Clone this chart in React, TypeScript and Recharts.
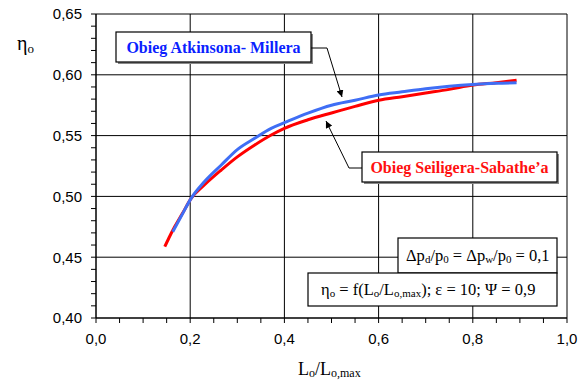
import React from 'react';
import { ComposedChart, Line, XAxis, YAxis, ReferenceLine } from 'recharts';

const redX = [0.146, 0.155, 0.167, 0.185, 0.202, 0.23, 0.266, 0.3, 0.337, 0.372, 0.4, 0.45, 0.5, 0.55, 0.6, 0.65, 0.7, 0.75, 0.8, 0.85, 0.893];
const redY = [0.4586, 0.466, 0.475, 0.487, 0.4984, 0.5094, 0.5217, 0.5325, 0.5423, 0.5505, 0.556, 0.563, 0.5686, 0.574, 0.579, 0.582, 0.585, 0.588, 0.5915, 0.5935, 0.5955];
const blueX = [0.163, 0.18, 0.202, 0.23, 0.266, 0.3, 0.337, 0.372, 0.4, 0.45, 0.5, 0.55, 0.6, 0.65, 0.7, 0.75, 0.8, 0.85, 0.893];
const blueY = [0.471, 0.483, 0.4984, 0.512, 0.5258, 0.5385, 0.5478, 0.556, 0.5606, 0.5685, 0.575, 0.579, 0.5834, 0.586, 0.5885, 0.5905, 0.592, 0.593, 0.5935];

const xTicks = Array.from({ length: 21 }, (_, i) => i / 20);
const yTicks = Array.from({ length: 26 }, (_, i) => (40 + i) / 100);
const xGrid = [0.2, 0.4, 0.6, 0.8, 1.0];
const yGrid = [0.45, 0.5, 0.55, 0.6, 0.65];

const redData = redX.map((x, i) => ({ x, y: redY[i] }));
const blueData = blueX.map((x, i) => ({ x, y: blueY[i] }));

const fmtX = (v: number) => (Math.round(v * 100) % 20 === 0 ? v.toFixed(1).replace('.', ',') : '');
const fmtY = (v: number) => (Math.round(v * 100) % 5 === 0 ? v.toFixed(2).replace('.', ',') : '');

const tickFont = { fontFamily: 'Liberation Sans, Arial, sans-serif', fontSize: 15, fill: '#000' };
const serif = 'Liberation Serif, Times New Roman, serif';

export default function App() {
  return (
    <div style={{ position: 'absolute', left: 0, top: 0, width: 585, height: 381, background: '#fff' }}>
      <ComposedChart width={585} height={381} margin={{ top: 14, right: 18, bottom: 33, left: 0 }}>
        <XAxis
          type="number"
          dataKey="x"
          domain={[0, 1]}
          ticks={xTicks}
          interval={0}
          tickFormatter={fmtX}
          tick={tickFont}
          tickSize={5}
          tickMargin={10}
          height={30}
          axisLine={{ stroke: '#000', strokeWidth: 1.5 }}
          tickLine={{ stroke: '#000', strokeWidth: 1 }}
          allowDataOverflow
        />
        <YAxis
          type="number"
          dataKey="y"
          domain={[0.4, 0.65]}
          ticks={yTicks}
          interval={0}
          tickFormatter={fmtY}
          tick={tickFont}
          tickSize={5}
          tickMargin={9}
          width={96}
          axisLine={{ stroke: '#000', strokeWidth: 1.5 }}
          tickLine={{ stroke: '#000', strokeWidth: 1 }}
          allowDataOverflow
        />
        {xGrid.map((v) => (
          <ReferenceLine key={'gx' + v} x={v} stroke="#000" strokeWidth={1} ifOverflow="extendDomain" />
        ))}
        {yGrid.map((v) => (
          <ReferenceLine key={'gy' + v} y={v} stroke="#000" strokeWidth={1} ifOverflow="extendDomain" />
        ))}
        <Line data={redData} dataKey="y" type="monotone" stroke="#ff0000" strokeWidth={3} dot={false} isAnimationActive={false} />
        <Line data={blueData} dataKey="y" type="monotone" stroke="#3f6ef5" strokeWidth={3} dot={false} isAnimationActive={false} />
      </ComposedChart>
      <svg width={585} height={381} style={{ position: 'absolute', left: 0, top: 0, pointerEvents: 'none' }}>
        <defs>
          <marker id="ah" viewBox="0 0 10 10" refX="10" refY="5" markerWidth="7" markerHeight="7" orient="auto-start-reverse">
            <path d="M0,0 L10,5 L0,10 z" fill="#000" />
          </marker>
        </defs>
        <text x={17} y={50} fontFamily={serif} fontSize={20} fill="#000">
          η<tspan fontSize={13} dy={3}>o</tspan>
        </text>
        <text x={298} y={375} fontFamily={serif} fontSize={18} fill="#000">
          L<tspan fontSize={12} dy={2}>o</tspan>
          <tspan dy={-2}>/L</tspan>
          <tspan fontSize={12} dy={2}>o,max</tspan>
        </text>
        <rect x={118} y={34} width={195} height={30} fill="#888" />
        <rect x={116} y={32} width={195} height={30} fill="#fff" stroke="#000" strokeWidth={1.2} />
        <text x={213.5} y={53} textAnchor="middle" fontFamily={serif} fontWeight="bold" fontSize={16} fill="#0a1fff">
          Obieg Atkinsona- Millera
        </text>
        <polyline points="311,48 327,48 342,97" fill="none" stroke="#000" strokeWidth={1} markerEnd="url(#ah)" />
        <rect x={364} y={154} width={195} height={30} fill="#888" />
        <rect x={362} y={152} width={195} height={30} fill="#fff" stroke="#000" strokeWidth={1.2} />
        <text x={459.5} y={173} textAnchor="middle" fontFamily={serif} fontWeight="bold" fontSize={16} fill="#ff1010">
          Obieg Seiligera-Sabathe’a
        </text>
        <polyline points="362,168 349,168 326,121" fill="none" stroke="#000" strokeWidth={1} markerEnd="url(#ah)" />
        <rect x={398} y={238} width={159} height={35} fill="#fff" stroke="#000" strokeWidth={1.2} />
        <text x={406} y={261} fontFamily={serif} fontSize={16.5} fill="#000">
          Δp<tspan fontSize={11} dy={2}>d</tspan>
          <tspan dy={-2}>/p</tspan>
          <tspan fontSize={11} dy={2}>0</tspan>
          <tspan dy={-2}> = Δp</tspan>
          <tspan fontSize={11} dy={2}>w</tspan>
          <tspan dy={-2}>/p</tspan>
          <tspan fontSize={11} dy={2}>0</tspan>
          <tspan dy={-2}> = 0,1</tspan>
        </text>
        <rect x={308} y={273} width={249} height={33} fill="#fff" stroke="#000" strokeWidth={1.2} />
        <text x={321} y={295} fontFamily={serif} fontSize={16.5} fill="#000">
          η<tspan fontSize={11} dy={2}>o</tspan>
          <tspan dy={-2}> = f(L</tspan>
          <tspan fontSize={11} dy={2}>o</tspan>
          <tspan dy={-2}>/L</tspan>
          <tspan fontSize={11} dy={2}>o,max</tspan>
          <tspan dy={-2}>); ε = 10; Ψ = 0,9</tspan>
        </text>
      </svg>
    </div>
  );
}
